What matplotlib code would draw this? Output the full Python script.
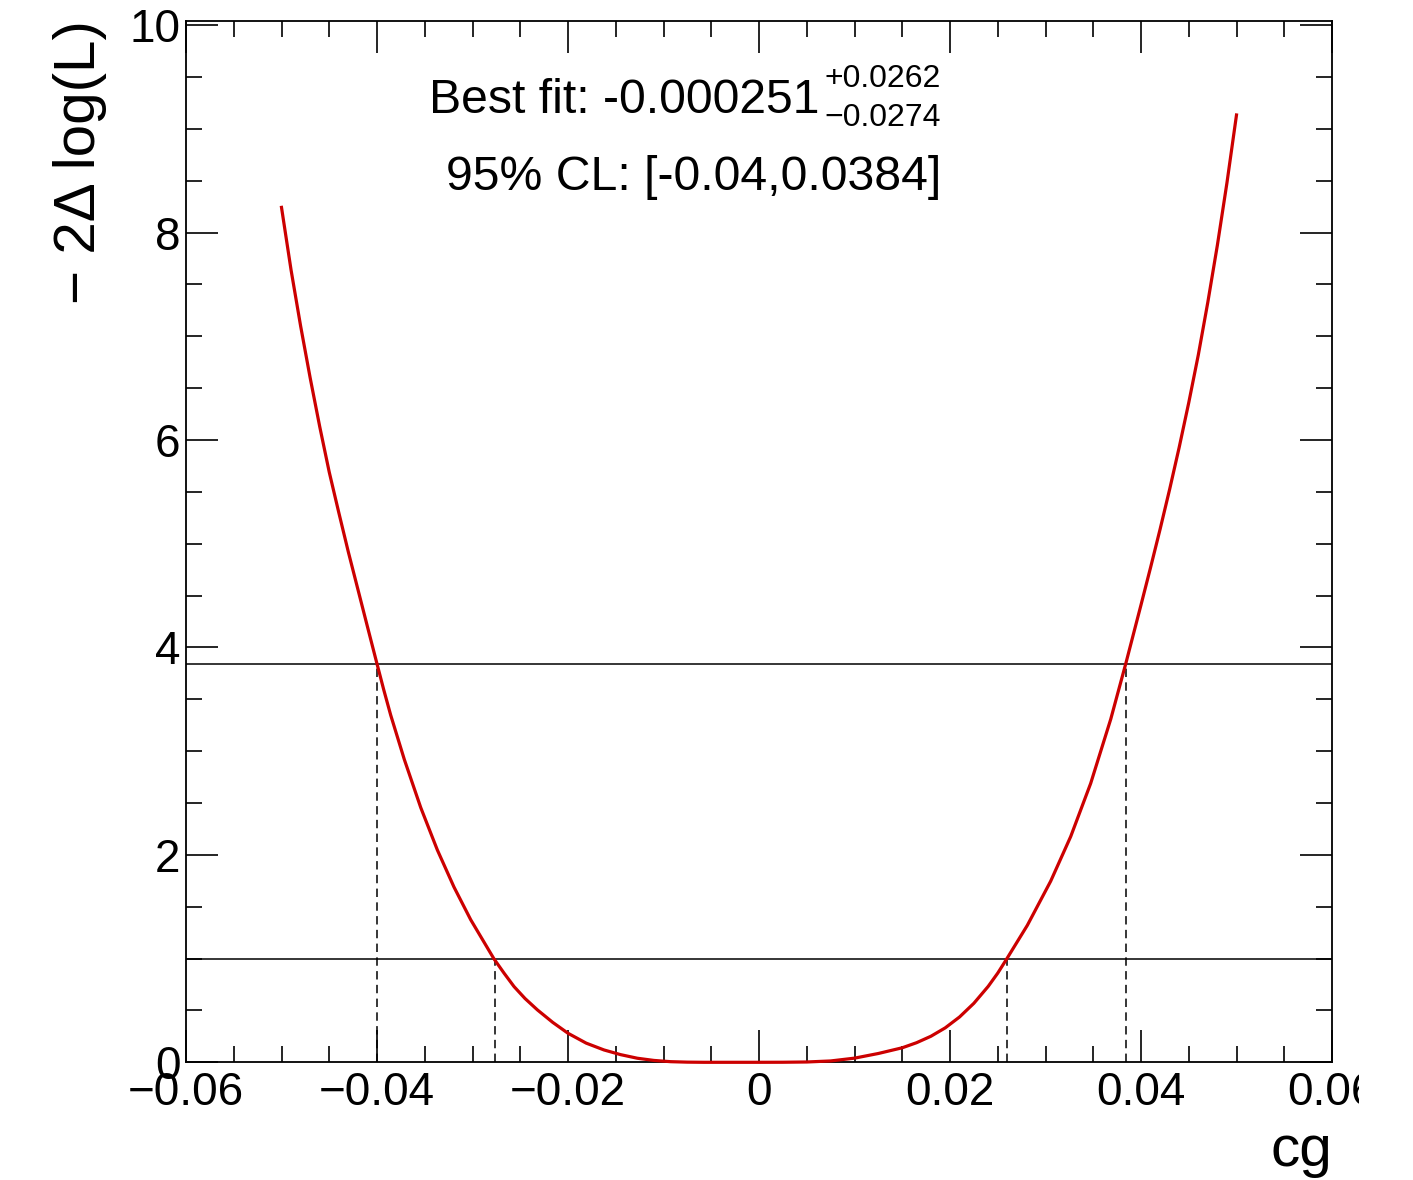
import matplotlib
matplotlib.use("Agg")
import matplotlib.pyplot as plt
from matplotlib.ticker import MultipleLocator
from matplotlib.transforms import Bbox, TransformedBbox

# ---------------- data ----------------
cg_values = [
    -0.0500, -0.0490, -0.0480, -0.0470, -0.0460, -0.0450, -0.0440, -0.0430,
    -0.0420, -0.0410, -0.0400, -0.0393, -0.03857, -0.03714, -0.03542,
    -0.03368, -0.03194, -0.03019, -0.02775, -0.0267, -0.02565, -0.0245,
    -0.0232, -0.0216, -0.0200, -0.0181, -0.01623, -0.0145, -0.01273,
    -0.0110, -0.00925, -0.0075, -0.00576, -0.0030,
    0.0000, 0.0025, 0.0050, 0.0075, 0.0100, 0.0125, 0.0150, 0.0165,
    0.0180, 0.0195, 0.0210, 0.0225, 0.0240, 0.0250, 0.02594, 0.0281,
    0.03054, 0.03264, 0.03473, 0.03683, 0.0384, 0.0390, 0.0400, 0.0410,
    0.0420, 0.0430, 0.0440, 0.0450, 0.0460, 0.0470, 0.0480, 0.0490, 0.0500,
]
nll_values = [
    8.243, 7.64, 7.10, 6.60, 6.13, 5.69, 5.30, 4.92,
    4.56, 4.20, 3.842, 3.594, 3.349, 2.920, 2.456,
    2.047, 1.690, 1.375, 0.997, 0.86, 0.73, 0.615,
    0.505, 0.385, 0.28, 0.185, 0.119, 0.074, 0.039,
    0.018, 0.006, 0.0015, 0.0, 0.0,
    0.0, 0.0005, 0.003, 0.013, 0.04, 0.085, 0.14, 0.189,
    0.251, 0.332, 0.437, 0.569, 0.732, 0.860, 0.997, 1.321,
    1.746, 2.177, 2.689, 3.308, 3.842, 4.055, 4.41, 4.77,
    5.14, 5.525, 5.93, 6.36, 6.82, 7.33, 7.88, 8.48, 9.134,
]
best_fit = -0.000251
err_up = 0.0262
err_down = 0.0274
cl95 = [-0.04, 0.0384]
levels = [1.0, 3.84]

x_ticks = [-0.06, -0.04, -0.02, 0.0, 0.02, 0.04, 0.06]
x_tick_labels = ["\u22120.06", "\u22120.04", "\u22120.02", "0", "0.02", "0.04", "0.06"]
y_ticks = [0, 2, 4, 6, 8, 10]
y_tick_labels = ["0", "2", "4", "6", "8", "10"]
x_title = "cg"
y_title = "\u2212 2\u0394 log(L)"

# ---------------- figure ----------------
plt.rcParams["font.family"] = ["Liberation Sans", "DejaVu Sans"]
W, H = 1413, 1180
fig = plt.figure(figsize=(W / 100, H / 100), dpi=100)
fig.patch.set_facecolor("white")


def fx(px):
    return px / W


def fy(py):
    return 1 - py / H


ax = fig.add_axes([fx(186), fy(1062.3), (1332 - 186) / W, (1062.3 - 21) / H])
ax.set_xlim(-0.06, 0.06)
ax.set_ylim(0, 10.04)

# horizontal CL lines
for lv in levels:
    ax.axhline(lv, color="black", lw=1.1, zorder=2)

# vertical dashed lines at crossings
x_1sig = [best_fit - err_down, best_fit + err_up]
ax.vlines(x_1sig, 0, levels[0], colors="black", lw=1.1,
          linestyles=(0, (5.5, 3.5)), zorder=2)
ax.vlines(cl95, 0, levels[1], colors="black", lw=1.1,
          linestyles=(0, (5.5, 3.5)), zorder=2)

# likelihood scan curve
ax.plot(cg_values, nll_values, color="#cc0000", lw=2.3, clip_on=False,
        zorder=5, solid_joinstyle="round", antialiased=True)

# ticks
ax.set_xticks(x_ticks, labels=x_tick_labels)
ax.set_yticks(y_ticks, labels=y_tick_labels)
ax.xaxis.set_minor_locator(MultipleLocator(0.005))
ax.yaxis.set_minor_locator(MultipleLocator(0.5))
ax.tick_params(which="both", direction="in", top=True, right=True,
               width=1.2, color="black")
ax.tick_params(which="major", length=23)
ax.tick_params(which="minor", length=11.5)
ax.tick_params(axis="x", which="major", labelsize=33, pad=6)
ax.tick_params(axis="y", which="major", labelsize=33, pad=4)
for sp in ax.spines.values():
    sp.set_linewidth(1.3)
    sp.set_zorder(4)

# clip the last x tick label like in the reference (canvas edge)
clip = TransformedBbox(Bbox.from_extents(0, 0, 1359 / W, 1), fig.transFigure)
lab = ax.get_xticklabels()[-1]
lab.set_clip_box(clip)
lab.set_clip_on(True)

# axis titles
fig.text(fx(107), fy(20), y_title, rotation=90, ha="right", va="top",
         fontsize=42)
fig.text(fx(1332), fy(1166), x_title, ha="right", va="baseline", fontsize=42)

# annotation texts
fig.text(fx(820), fy(113), "Best fit: -0.000251",
         ha="right", va="baseline", fontsize=34.7)
fig.text(fx(824), fy(87), f"+{err_up}", ha="left", va="baseline", fontsize=23)
fig.text(fx(824), fy(126), f"\u2212{err_down}", ha="left", va="baseline", fontsize=23)
fig.text(fx(941), fy(190), f"95% CL: [{cl95[0]},{cl95[1]}]", ha="right",
         va="baseline", fontsize=34.7)

fig.savefig("out.png", dpi=100, facecolor="white")
